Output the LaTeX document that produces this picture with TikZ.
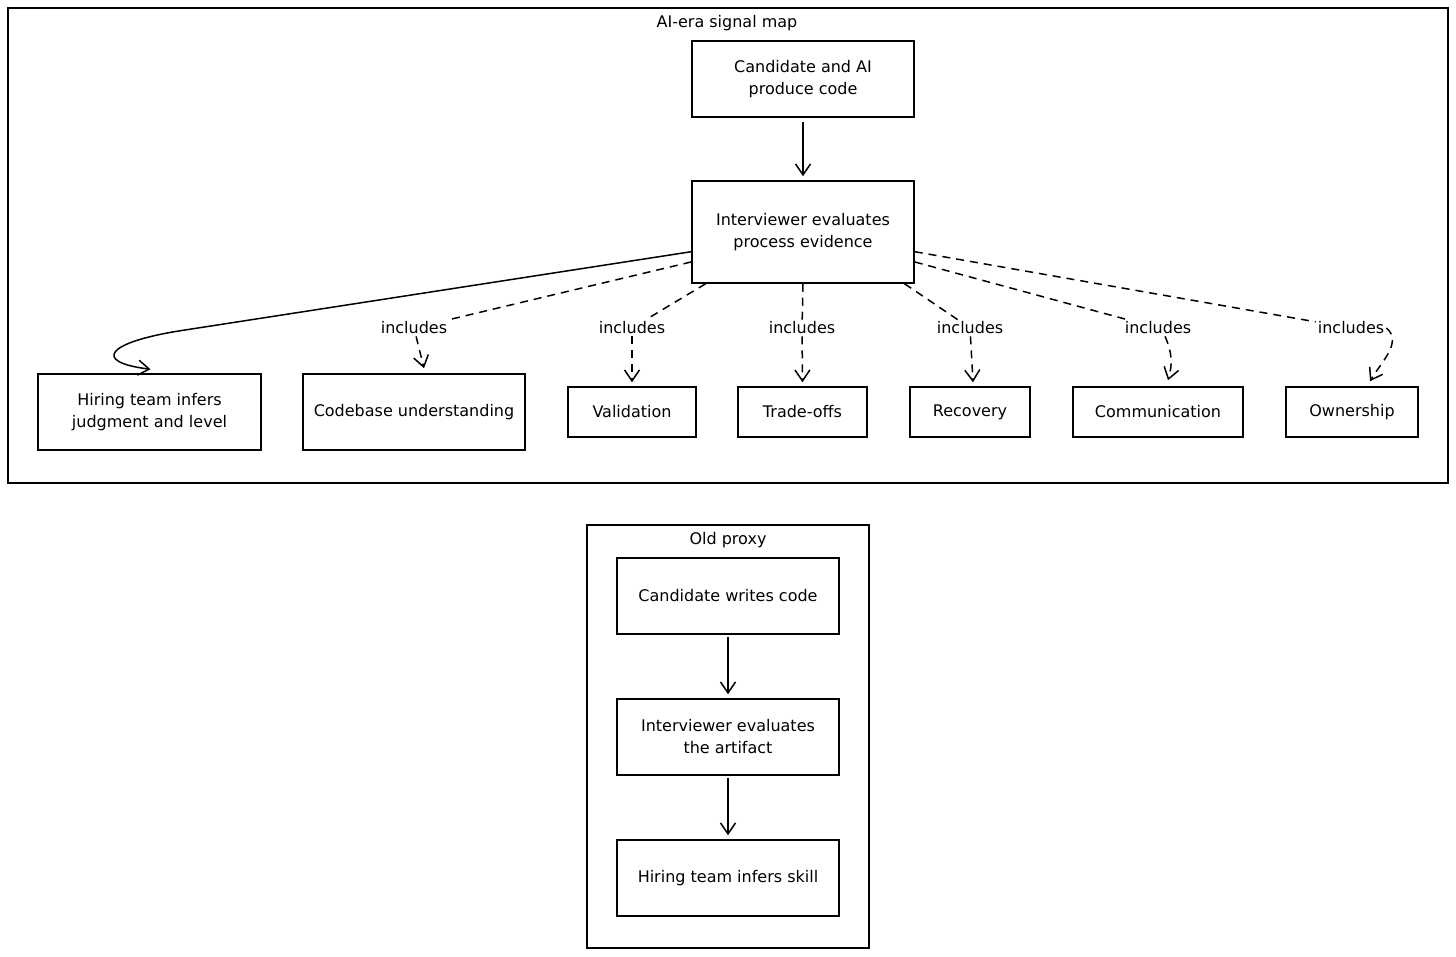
\documentclass[tikz,border=0pt]{standalone}
\usepackage{fontspec}
\setmainfont{DejaVu Sans}
\usetikzlibrary{positioning,arrows.meta}

\begin{document}
\begin{tikzpicture}[x=1pt, y=1pt,
  font=\fontsize{16}{22}\selectfont,
  frame/.style={draw, line width=1.5pt},
  box/.style={draw, line width=1.5pt, align=center, inner sep=0pt, minimum width=222pt, minimum height=76pt},
  small/.style={box, minimum height=50pt},
  tag/.style={inner sep=2pt, fill=white},
  arr/.style={-{Straight Barb[length=11pt,width=15pt]}, line width=1.5pt},
  dsh/.style={arr, dash pattern=on 8pt off 6pt}]
\useasboundingbox (0,0) rectangle (1456,-957);
% AI-era signal map
\draw[frame] (8,-8) rectangle (1448,-483);
\node (aititle) at (727,-23) {AI-era signal map};
\node[box] (produce) at (803,-79) {Candidate and AI\\produce code};
\node[box, minimum height=102pt] (eval) at (803,-232) {Interviewer evaluates\\process evidence};
\node[box, minimum width=223pt] (hire) at (149.5,-412) {Hiring team infers\\judgment and level};
\node[box] (code) at (414,-412) {Codebase understanding};
\node[small, minimum width=128pt] (valid) at (632,-412) {Validation};
\node[small, minimum width=129pt] (trade) at (802.5,-412) {Trade-offs};
\node[small, minimum width=120pt] (recov) at (970,-412) {Recovery};
\node[small, minimum width=170pt] (comm) at (1158,-412) {Communication};
\node[small, minimum width=132pt] (own) at (1352,-412) {Ownership};
\node[tag] (inc1) at (414,-328) {includes};
\node[tag] (inc2) at (632,-328) {includes};
\node[tag] (inc3) at (802,-328) {includes};
\node[tag] (inc4) at (970,-328) {includes};
\node[tag] (inc5) at (1158,-328) {includes};
\node[tag] (inc6) at (1351,-328) {includes};
\coordinate (hook) at (185,-330);
\draw[arr, shorten <=4pt, shorten >=4pt] (produce) -- (eval);
\draw[arr] (eval.190) -- (hook) .. controls (105,-342) and (92,-362) .. ([shift={(1pt,4pt)}]hire.north);
\draw[dsh, -] (eval.195) -- (inc1);
\draw[dsh] (inc1) -- ([shift={(10pt,5pt)}]code.north);
\draw[dsh, -] (eval.208) -- (inc2);
\draw[dsh] (inc2) -- ([yshift=4pt]valid.north);
\draw[dsh, -] (eval.south) -- (inc3);
\draw[dsh] (inc3) -- ([yshift=4pt]trade.north);
\draw[dsh, -] (eval.-27) -- (inc4);
\draw[dsh] (inc4) -- ([shift={(3pt,4pt)}]recov.north);
\draw[dsh, -] (eval.-15) -- (inc5);
\draw[dsh] (inc5.-50) to[bend left=20] ([shift={(10pt,6pt)}]comm.north);
\draw[dsh, -] (eval.-10) -- (inc6);
\draw[dsh] (inc6.east) to[out=-40, in=60] ([shift={(18pt,5pt)}]own.north);
% Old proxy
\draw[frame] (587,-525) rectangle (869,-948);
\node (oldtitle) at (728,-540) {Old proxy};
\node[box] (writes) at (728,-596) {Candidate writes code};
\node[box] (artifact) at (728,-737) {Interviewer evaluates\\the artifact};
\node[box] (skill) at (728,-878) {Hiring team infers skill};
\draw[arr, shorten <=2pt, shorten >=4pt] (writes) -- (artifact);
\draw[arr, shorten <=2pt, shorten >=4pt] (artifact) -- (skill);
\end{tikzpicture}
\end{document}
